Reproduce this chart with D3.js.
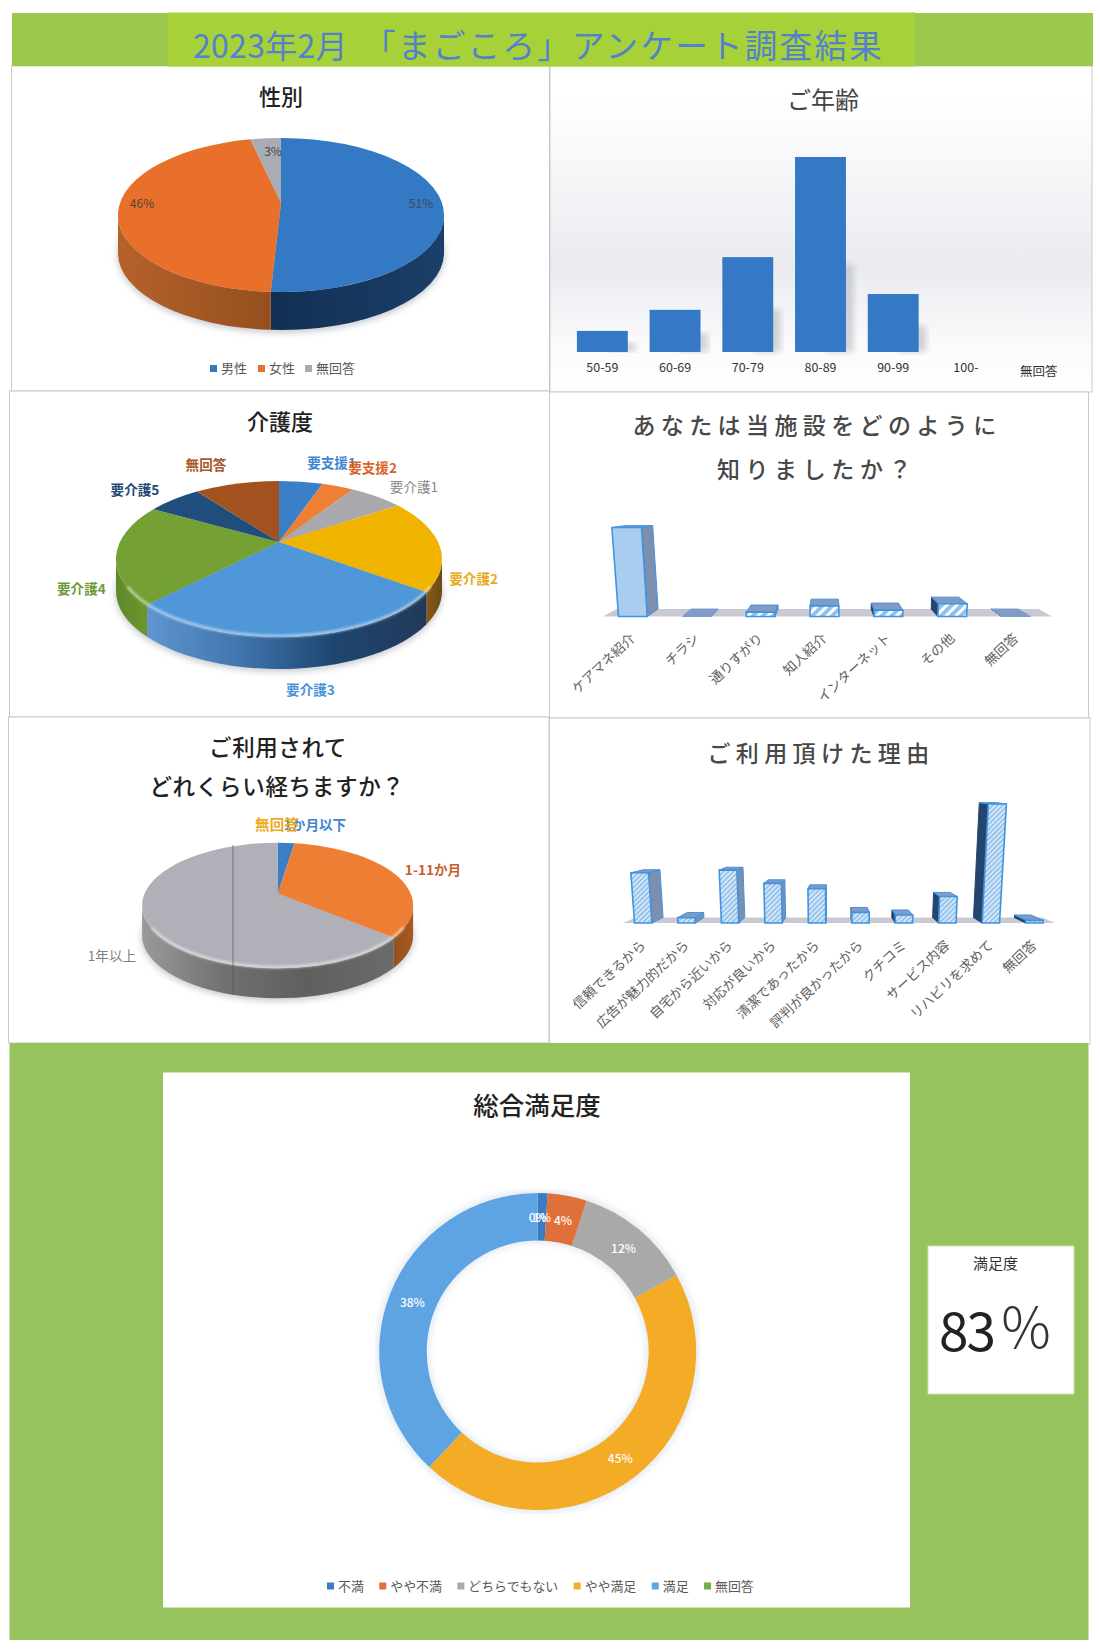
<!DOCTYPE html>
<html>
<head>
<meta charset="utf-8">
<script src="https://cdn.jsdelivr.net/npm/d3@7"></script>
<style>
  html, body { margin: 0; padding: 0; background: #fff; }
  svg { display: block; font-family: "Noto Sans CJK JP", "Noto Sans", sans-serif; }
</style>
</head>
<body>
<div id="chart"></div>
<script>
// data
const genderNames = ['男性', '女性', '無回答']
const genderValues = [51, 46, 3]

const ageNames = ['50-59', '60-69', '70-79', '80-89', '90-99', '100-', '無回答']
const ageValues = [4, 8, 18, 37, 11, 0, 0]

const careNames = ['要支援1', '要支援2', '要介護1', '要介護2', '要介護3', '要介護4', '要介護5', '無回答']
const careValues = [4.3, 3.2, 5.5, 19, 33, 21, 5.6, 8.4]

const howNames = ['ケアマネ紹介', 'チラシ', '通りすがり', '知人紹介', 'インターネット', 'その他', '無回答']
const howValues = [42, 0, 2, 5, 3, 6, 0]

const spanNames = ['1か月以下', '1-11か月', '1年以上', '無回答']
const spanValues = [2, 31.6, 66.4, 0]

const reasonNames = ['信頼できるから', '広告が魅力的だから', '自宅から近いから', '対応が良いから', '清潔であったから',
  '評判が良かったから', 'クチコミ', 'サービス内容', 'リハビリを求めて', '無回答']
const reasonValues = [19, 2, 20, 15, 13, 4, 3, 10, 45, 1]

const satisfactionNames = ['不満', 'やや不満', 'どちらでもない', 'やや満足', '満足', '無回答']
const satisfactionValues = [1, 4, 12, 45, 38, 0]

const width = 1100
const height = 1652

const svg = d3.select('#chart').append('svg')
  .attr('width', width)
  .attr('height', height)

const defs = svg.append('defs')

defs.append('filter').attr('id', 'blur3').append('feGaussianBlur').attr('stdDeviation', 3)
defs.append('filter').attr('id', 'blur1').append('feGaussianBlur').attr('stdDeviation', 1.2)

let ageBg = defs.append('linearGradient').attr('id', 'ageBg').attr('x1', 0).attr('x2', 0).attr('y1', 0).attr('y2', 1)
ageBg.append('stop').attr('offset', '0.1').attr('stop-color', '#ffffff')
ageBg.append('stop').attr('offset', '0.62').attr('stop-color', '#e9ebef')
ageBg.append('stop').attr('offset', '0.86').attr('stop-color', '#fbfbfc')
ageBg.append('stop').attr('offset', '1').attr('stop-color', '#ffffff')

function hatch(id, size, back, stripe) {
  let p = defs.append('pattern').attr('id', id)
    .attr('patternUnits', 'userSpaceOnUse')
    .attr('width', size).attr('height', size)
    .attr('patternTransform', 'rotate(45)')
  p.append('rect').attr('width', size).attr('height', size).attr('fill', back)
  p.append('rect').attr('width', size * 0.55).attr('height', size).attr('fill', stripe)
}
hatch('hatchFine', 3.5, '#dcebf9', '#95c3ec')
hatch('hatchWide', 7, '#ffffff', '#8fc0ec')

function sideGradient(id, x0, x1, stops) {
  let g = defs.append('linearGradient').attr('id', id)
    .attr('gradientUnits', 'userSpaceOnUse')
    .attr('x1', x0).attr('x2', x1).attr('y1', 0).attr('y2', 0)
  stops.forEach((c, i) => {
    g.append('stop').attr('offset', i / (stops.length - 1)).attr('stop-color', c)
  })
  return 'url(#' + id + ')'
}

// frames
function panel(x, y, w, h, fill) {
  svg.append('rect')
    .attr('x', x).attr('y', y).attr('width', w).attr('height', h)
    .attr('fill', fill || '#fff')
    .attr('stroke', '#c9c9c9')
    .attr('stroke-width', 1)
}

function label(x, y, text, size, color, opts) {
  opts = opts || {}
  return svg.append('text')
    .attr('x', x).attr('y', y - 1.5)
    .attr('text-anchor', opts.anchor || 'middle')
    .attr('dominant-baseline', 'central')
    .attr('font-size', size)
    .attr('font-weight', opts.weight || 400)
    .attr('letter-spacing', opts.spacing || 0)
    .attr('fill', color)
    .text(text)
}

panel(11.5, 66, 538, 325)
panel(550, 66, 542, 326, 'url(#ageBg)')
panel(9.5, 391, 540, 326)
panel(549.5, 392, 539, 326)
panel(8.5, 717, 540.5, 326)
panel(549.5, 718, 540.5, 326)

// header
svg.append('rect').attr('x', 12).attr('y', 13).attr('width', 1081).attr('height', 53).attr('fill', '#9cc84c')
svg.append('rect').attr('x', 168).attr('y', 12.5).attr('width', 747).attr('height', 54).attr('fill', '#a6d139')
label(193, 45, '2023年2月', 32, '#5481cb', { anchor: 'start', spacing: 0.3 })
label(884, 45, '「まごころ」アンケート調査結果', 32.5, '#5481cb', { anchor: 'end', spacing: 2.3 })

// 3d pie: ellipse top with the apex pushed up a bit for the perspective
function pie3d(values, colors, sides, o) {
  const arcs = d3.pie().sort(null).value(d => d)(values)
  const pt = a => [o.cx + o.rx * Math.sin(a), o.cy - o.ry * Math.cos(a)]
  const apex = [o.cx, o.cy + o.apexDy]
  const g = svg.append('g')

  g.append('ellipse')
    .attr('cx', o.cx).attr('cy', o.cy + o.depth + 2)
    .attr('rx', o.rx + 1).attr('ry', o.ry + 1)
    .attr('fill', '#8a8f98').attr('opacity', 0.45)
    .attr('filter', 'url(#blur3)')

  arcs.forEach((a, i) => {
    let a0 = Math.max(a.startAngle, Math.PI / 2)
    let a1 = Math.min(a.endAngle, Math.PI * 1.5)
    if (a0 >= a1) return
    let p0 = pt(a0)
    let p1 = pt(a1)
    let d = `M${p0} A${o.rx} ${o.ry} 0 0 1 ${p1} L${p1[0]} ${p1[1] + o.depth} A${o.rx} ${o.ry} 0 0 0 ${p0[0]} ${p0[1] + o.depth} Z`
    g.append('path').attr('d', d).attr('fill', sides[i])
  })

  arcs.forEach((a, i) => {
    if (a.endAngle - a.startAngle <= 0) return
    let p0 = pt(a.startAngle)
    let p1 = pt(a.endAngle)
    let large = a.endAngle - a.startAngle > Math.PI ? 1 : 0
    g.append('path')
      .attr('d', `M${apex} L${p0} A${o.rx} ${o.ry} 0 ${large} 1 ${p1} Z`)
      .attr('fill', colors[i])
  })

  if (o.bevel) {
    let p0 = pt(Math.PI * 0.62)
    let p1 = pt(Math.PI * 1.38)
    g.append('path')
      .attr('d', `M${p0} A${o.rx} ${o.ry} 0 0 1 ${p1}`)
      .attr('transform', 'translate(0,-1)')
      .attr('fill', 'none').attr('stroke', '#fff').attr('stroke-width', 3)
      .attr('opacity', o.bevel)
      .attr('filter', 'url(#blur1)')
  }
  return g
}

// 性別
label(281, 96, '性別', 22, '#222', { weight: 500 })
const genderColors = ['#3379c4', '#e9702a', '#aaacb4']
pie3d(genderValues, genderColors, [
  sideGradient('gs0', 265, 444, ['#122f52', '#1a3f68']),
  sideGradient('gs1', 118, 265, ['#b5622a', '#96501f']),
  '#888'
], { cx: 281, cy: 215, rx: 163, ry: 77, depth: 38, apexDy: -12 })
label(421, 204, '51%', 12, '#3b4a5c')
label(142, 204, '46%', 12, '#5a4030')
label(273, 152, '3%', 12, '#444')

const genderLegendX = [210, 258, 305]
genderNames.forEach((n, i) => {
  svg.append('rect').attr('x', genderLegendX[i]).attr('y', 365).attr('width', 7).attr('height', 7).attr('fill', genderColors[i])
  label(genderLegendX[i] + 11, 369, n, 13, '#595959', { anchor: 'start' })
})

// ご年齢
label(823, 100, 'ご年齢', 24, '#444')
const ageX = d3.scaleBand().domain(ageNames).range([566, 1075]).paddingInner(0.3).paddingOuter(0.15)
const ageY = d3.scaleLinear().domain([0, 37]).range([352, 157])

svg.append('g').selectAll('rect.shadow')
  .data(ageValues).enter().append('rect')
  .attr('x', (d, i) => ageX(ageNames[i]) + ageX.bandwidth() * 0.6)
  .attr('y', d => ageY(d) + (352 - ageY(d)) * 0.55)
  .attr('width', ageX.bandwidth() * 0.55)
  .attr('height', d => (352 - ageY(d)) * 0.45)
  .attr('fill', '#b4b7bd').attr('opacity', 0.6)
  .attr('filter', 'url(#blur3)')

svg.append('g').selectAll('rect.bar')
  .data(ageValues).enter().append('rect')
  .attr('class', 'bar')
  .attr('x', (d, i) => ageX(ageNames[i]))
  .attr('y', d => ageY(d))
  .attr('width', ageX.bandwidth())
  .attr('height', d => 352 - ageY(d))
  .attr('fill', '#3478c6')

let ageAxis = svg.append('g').attr('transform', 'translate(0,352)')
  .call(d3.axisBottom(ageX).tickSize(0).tickPadding(11))
ageAxis.select('.domain').remove()
ageAxis.selectAll('text').attr('font-size', 12.5).attr('fill', '#333').attr('font-family', '"Noto Sans CJK JP"')
ageAxis.selectAll('text').filter(d => d === '無回答').attr('dy', '1em')

// 介護度
label(280, 421, '介護度', 22, '#222', { weight: 500 })
const careColors = ['#3a7fc8', '#ee8036', '#a9a9ad', '#f0b400', '#4f97d9', '#74a034', '#1f4e7c', '#a1521e']
pie3d(careValues, careColors, [
  '#333', '#333', '#333',
  sideGradient('cs3', 425, 442, ['#8a5a18', '#6e4a14']),
  sideGradient('cs4', 150, 425, ['#5f95cf', '#3f74ad', '#1e4670', '#22395a']),
  sideGradient('cs5', 116, 150, ['#5f8a2a', '#6f9630']),
  '#333', '#333'
], { cx: 279, cy: 559, rx: 163, ry: 78, depth: 32, apexDy: -17, bevel: 0.45 })

const careLabelX = [331.6, 372.6, 414, 473.7, 310.5, 81.4, 135, 206]
const careLabelY = [463, 468.7, 487.7, 579, 690, 589, 490.7, 465]
const careLabelColors = ['#3f85d0', '#d9652a', '#8a8a8a', '#e8a91c', '#4a94dc', '#6f9a3a', '#234a75', '#a8582a']
careNames.forEach((n, i) => {
  label(careLabelX[i], careLabelY[i], n, 13.6, careLabelColors[i], { weight: i === 2 ? 400 : 700 })
})

// 3d columns with a bit of perspective, vx is where things lean away from
function bars3d(names, values, o) {
  const x = d3.scaleBand().domain(names).range(o.range).paddingInner(1 - o.barShare).paddingOuter((1 - o.barShare) / 2)
  const h = d3.scaleLinear().domain([0, d3.max(values)]).range([0, o.maxHeight])
  const P = (px, ph, d) => [
    o.vx + (px - o.vx) * (1 + 0.00036 * ph) * (1 - 0.06 * d),
    o.floorY - ph - d * o.depth * Math.max(0.25, 1 - ph / 110)
  ]
  const face = pts => 'M' + pts.join('L') + 'Z'
  const g = svg.append('g')

  g.append('path')
    .attr('d', face([P(o.floor[0], 0, 0), P(o.floor[1], 0, 0), P(o.floor[1], 0, 1), P(o.floor[0], 0, 1)]))
    .attr('fill', '#c9c9d3')

  names.forEach((n, i) => {
    let x0 = x(n)
    let x1 = x0 + x.bandwidth()
    let ph = h(values[i])
    let left = (x0 + x1) / 2 < o.vx - 15
    let right = (x0 + x1) / 2 > o.vx + 15
    if (left) {
      g.append('path')
        .attr('d', face([P(x1, 0, 0), P(x1, ph, 0), P(x1, ph, 1), P(x1, 0, 1)]))
        .attr('fill', '#7d8fae').attr('stroke', '#3f93e0').attr('stroke-width', 1)
    }
    if (right) {
      g.append('path')
        .attr('d', face([P(x0, 0, 0), P(x0, ph, 0), P(x0, ph, 1), P(x0, 0, 1)]))
        .attr('fill', '#24466e').attr('stroke', '#24466e').attr('stroke-width', 1)
    }
    g.append('path')
      .attr('d', face([P(x0, ph, 0), P(x1, ph, 0), P(x1, ph, 1), P(x0, ph, 1)]))
      .attr('fill', '#7f9cc6').attr('stroke', ph > 0 ? '#3f93e0' : '#7f9cc6').attr('stroke-width', 1)
    if (ph > 0) {
      g.append('path')
        .attr('d', face([P(x0, 0, 0), P(x1, 0, 0), P(x1, ph, 0), P(x0, ph, 0)]))
        .attr('fill', o.frontFill(values[i]))
        .attr('stroke', '#3f93e0').attr('stroke-width', 1.6)
    }
  })

  let axis = svg.append('g').attr('transform', 'translate(0,' + o.axisY + ')')
    .call(d3.axisBottom(x).tickSize(0).tickPadding(0))
  axis.select('.domain').remove()
  axis.selectAll('text')
    .attr('font-size', 13.4)
    .attr('font-family', '"Noto Sans CJK JP"')
    .attr('fill', '#5f5f5f')
    .attr('text-anchor', 'end')
    .attr('y', 0).attr('dy', '0.35em')
    .attr('transform', 'rotate(-43)')
}

// あなたは当施設をどのように知りましたか？
label(817, 425, 'あなたは当施設をどのように', 23, '#484848', { spacing: 5.4, weight: 500 })
label(817, 469, '知りましたか？', 23, '#484848', { spacing: 5.6, weight: 500 })
bars3d(howNames, howValues, {
  range: [601, 1048], barShare: 0.45, maxHeight: 89, vx: 827, floorY: 616.5, depth: 7.5,
  floor: [603, 1052], axisY: 636,
  frontFill: v => v > 30 ? '#a9cdee' : 'url(#hatchWide)'
})

// ご利用されてどれくらい経ちますか？
label(278, 747, 'ご利用されて', 22.5, '#222', { spacing: 0.6, weight: 500 })
label(277, 786, 'どれくらい経ちますか？', 22.5, '#222', { spacing: 0.7, weight: 500 })
const spanColors = ['#3a7fc8', '#ee7e33', '#b0b0b8', '#f0b400']
pie3d(spanValues, spanColors, [
  '#333',
  sideGradient('ss1', 390, 413, ['#8f4e1c', '#a85a20']),
  sideGradient('ss2', 142, 390, ['#9a9a9a', '#707070', '#5f5f5f', '#6a6a6a']),
  '#333'
], { cx: 277.6, cy: 905.5, rx: 135.5, ry: 62.7, depth: 30, apexDy: -12, bevel: 0.5 })
svg.append('line').attr('x1', 233).attr('x2', 233).attr('y1', 845).attr('y2', 995)
  .attr('stroke', '#55565e').attr('stroke-width', 1).attr('opacity', 0.7)
const spanLabelX = [315, 433, 112, 277]
const spanLabelY = [825, 870.7, 956.7, 825]
const spanLabelSize = [13.6, 13.6, 13.6, 14.6]
const spanLabelColors = ['#3f85d0', '#c8602c', '#808080', '#edaa1e']
spanNames.forEach((n, i) => {
  label(spanLabelX[i], spanLabelY[i], n, spanLabelSize[i], spanLabelColors[i], { weight: i === 2 ? 400 : 700 })
})

// ご利用頂けた理由
label(821, 753, 'ご利用頂けた理由', 23, '#484848', { spacing: 5.4, weight: 500 })
bars3d(reasonNames, reasonValues, {
  range: [621.5, 1056], barShare: 0.4, maxHeight: 119, vx: 838, floorY: 923, depth: 5.5,
  floor: [623, 1055], axisY: 943,
  frontFill: () => 'url(#hatchFine)'
})

// 総合満足度
svg.append('rect').attr('x', 9.5).attr('y', 1043).attr('width', 1079).attr('height', 597).attr('fill', '#97c35f')
svg.append('rect').attr('x', 163).attr('y', 1072.5).attr('width', 747).attr('height', 535).attr('fill', '#fff')
label(537, 1105, '総合満足度', 25.5, '#222', { weight: 500 })

const satisfactionColors = ['#3d7cc4', '#e0703a', '#a9a9a9', '#f4ab25', '#5ea4e3', '#70ad47']
const donutArc = d3.arc().innerRadius(111).outerRadius(158.5)
const donutPie = d3.pie().sort(null).value(d => d)
const donut = svg.append('g').attr('transform', 'translate(537.7,1351.5)')

donut.append('circle').attr('r', 135).attr('fill', 'none')
  .attr('stroke', '#9db4cf').attr('stroke-width', 54).attr('opacity', 0.25)
  .attr('filter', 'url(#blur3)')

donut.selectAll('path')
  .data(donutPie(satisfactionValues)).enter().append('path')
  .attr('d', donutArc)
  .attr('fill', (d, i) => satisfactionColors[i])

donut.selectAll('text')
  .data(donutPie(satisfactionValues)).enter().append('text')
  .attr('transform', d => 'translate(' + donutArc.centroid(d) + ')')
  .attr('text-anchor', 'middle')
  .attr('dominant-baseline', 'central')
  .attr('font-size', 12)
  .attr('font-weight', 500)
  .attr('fill', '#fff')
  .text(d => d.data + '%')

let legendX = 327
satisfactionNames.forEach((n, i) => {
  svg.append('rect').attr('x', legendX).attr('y', 1582.5).attr('width', 7).attr('height', 7).attr('fill', satisfactionColors[i])
  let t = label(legendX + 11, 1586.5, n, 12.9, '#595959', { anchor: 'start' })
  legendX += 11 + t.node().getComputedTextLength() + 15.5
})

// 満足度 box
svg.append('rect').attr('x', 928).attr('y', 1246).attr('width', 146).attr('height', 148)
  .attr('fill', '#fff').attr('stroke', '#cfe0b8').attr('stroke-width', 1)
label(995.5, 1264, '満足度', 15, '#333')
label(939, 1329, '83', 53, '#222', { anchor: 'start', spacing: -2 })
label(1026, 1325, '％', 55, '#333', { weight: 300 })
</script>
</body>
</html>
